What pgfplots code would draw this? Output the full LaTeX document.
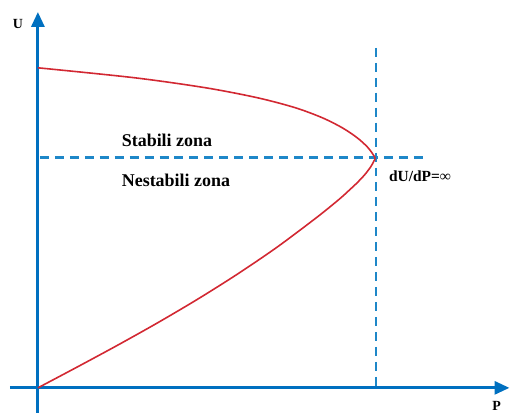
\documentclass[border=0pt]{standalone}
\usepackage{pgfplots}
\pgfplotsset{compat=1.18}
\usepackage{fontspec}
\setmainfont{Liberation Serif}
\usetikzlibrary{arrows.meta}
\definecolor{axblue}{RGB}{0,112,192}
\definecolor{dashblue}{RGB}{30,135,200}
\definecolor{curvered}{RGB}{210,40,50}
\begin{document}
\begin{tikzpicture}
\begin{axis}[
  scale only axis, width=511pt, height=414pt,
  xmin=-38, xmax=473, ymin=-25, ymax=389,
  hide axis, clip=false,
]
\path (rel axis cs:0,0) rectangle (rel axis cs:1,1);
% axes
\addplot[axblue, line width=3pt, -{Triangle[length=15pt,width=13pt]}] coordinates {(0,-25) (0,377)};
\addplot[axblue, line width=3pt, -{Triangle[length=15pt,width=13pt]}] coordinates {(-28,0) (473,0)};
% dashed lines
\addplot[dashblue, line width=2.2pt, dash pattern=on 9pt off 6pt] coordinates {(2,231) (387,231)};
\addplot[dashblue, line width=2.2pt, dash pattern=on 9pt off 6pt] coordinates {(339,341) (339,2)};
% PV curve
\addplot[curvered, line width=1.6pt, smooth, tension=0.5] coordinates {
(0,321) (97,311) (168,301) (220,291) (258,281) (285,271) (305,261) (320,251)
(331,241) (338,231)
(337,227.5) (334,222) (328,214) (320,205.5) (312,198) (302,189) (280,171.2)
(240,141.2) (200,114) (160,88.8) (120,65.2) (80,42.8) (40,21.2) (0,0)};
\node[anchor=base west, inner sep=0pt, font=\fontsize{18}{21}\selectfont\bfseries] at (axis cs:84,242) {Stabili zona};
\node[anchor=base west, inner sep=0pt, font=\fontsize{18}{21}\selectfont\bfseries] at (axis cs:84,202) {Nestabili zona};
\node[anchor=base west, inner sep=0pt, font=\fontsize{15.5}{18}\selectfont\bfseries] at (axis cs:352,207) {dU/dP=∞};
\node[font=\fontsize{14}{16}\selectfont\bfseries] at (axis cs:-20,365) {U};
\node[font=\fontsize{14}{16}\selectfont\bfseries] at (axis cs:460,-18) {P};
\end{axis}
\end{tikzpicture}
\end{document}
